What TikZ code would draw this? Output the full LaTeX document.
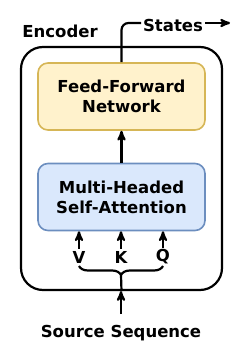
\documentclass[tikz,border=0pt]{standalone}
\usepackage{fontspec}
\setmainfont{DejaVu Sans}
\usepackage{tikz}
\usetikzlibrary{calc}
\usetikzlibrary{arrows}
\usetikzlibrary{decorations.pathreplacing}
\usetikzlibrary{positioning}
\definecolor{ffnfill}{HTML}{FFF2CC}
\definecolor{ffnline}{HTML}{D6B656}
\definecolor{mhafill}{HTML}{DAE8FC}
\definecolor{mhaline}{HTML}{6C8EBF}
\tikzset{
  lbl/.style={font=\fontsize{16.5}{19}\selectfont\bfseries, inner sep=1},
  block/.style={rounded corners=10, line width=1.6, minimum width=167, minimum height=67,
    align=center, font=\fontsize{16.5}{20}\selectfont\bfseries},
}

\begin{document}
\begin{tikzpicture}[x=1pt,y=1pt,line width=2.2,>={stealth'[scale=1.25]}]
\useasboundingbox (0,0) rectangle (250,349);
\node[draw, line width=2.2, rounded corners=22, minimum width=201, minimum height=243] (box) at (121.5,180.5) {};
\node[lbl] (enc) at (60,317.5) {Encoder};
\node[block, fill=ffnfill, draw=ffnline] (ffn) at (121.5,252.5) {Feed-Forward\\Network};
\node[block, fill=mhafill, draw=mhaline] (mha) at (121.5,152) {Multi-Headed\\Self-Attention};
\draw[->] (mha) -- (ffn);
\node[lbl, anchor=west] (states) at (141,324) {States};
\coordinate (out) at (230,326);
\draw[rounded corners=7] (ffn.north) |- ($(states.west)+(0,2)$);
\draw[->] ($(states.east)+(0,2)$) -- (out);
\foreach \x/\t in {79/V,121/K,163/Q} {
  \node[lbl] (\t) at (\x,92) {\t};
  \draw[->] (\t.north) -- (\t.north |- mha.south);
};
\draw[decorate, decoration={brace, mirror, amplitude=9}] (79,83) -- (163,83);
\coordinate (tip) at (121,74);
\node[lbl] (src) at (121,16) {Source Sequence};
\draw[->, shorten <=9] (src) -- (src |- box.south);
\draw (box.south) -- (tip);
\end{tikzpicture}
\end{document}
